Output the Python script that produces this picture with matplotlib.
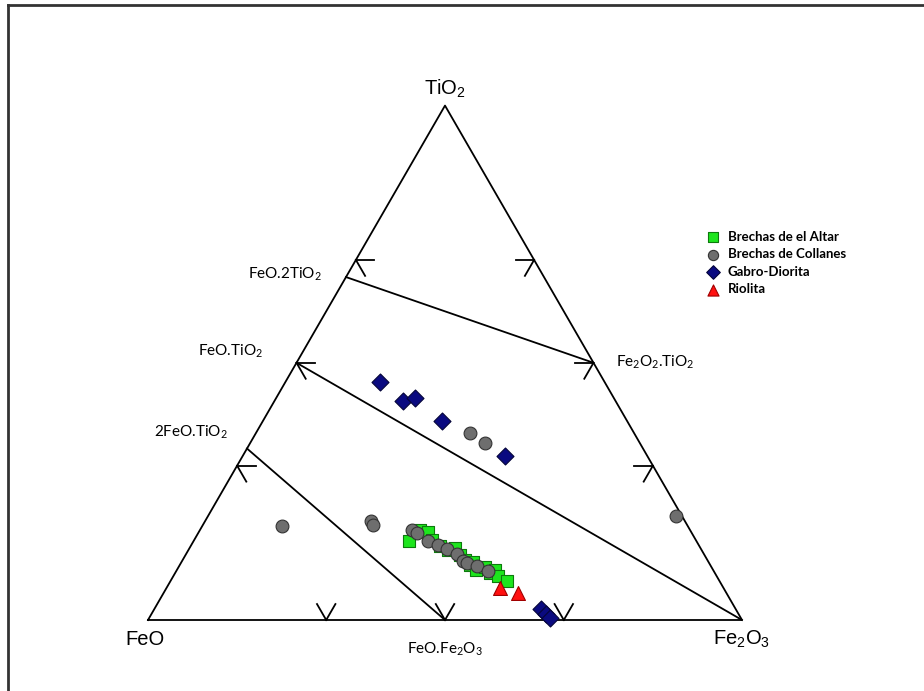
import numpy as np
import matplotlib
matplotlib.use('Agg')
from matplotlib import pyplot as plt
from matplotlib.lines import Line2D

plt.rcParams['font.family'] = ['Lato', 'DejaVu Sans']
plt.rcParams['mathtext.fontset'] = 'custom'
plt.rcParams['mathtext.rm'] = 'Lato'
plt.rcParams['mathtext.default'] = 'regular'

# compositions as (TiO2 %, Fe2O3 %), FeO is the remainder
altar_ti = [15.4, 17.5, 17.1, 15.6, 14.4, 13.6, 14.0, 12.6, 11.7, 10.7, 9.7, 10.3, 9.1, 9.7, 8.6, 7.6, 11.3]
altar_fe3 = [36.3, 37.0, 38.6, 40.0, 42.0, 43.7, 44.7, 46.2, 47.5, 48.9, 50.4, 51.6, 53.0, 53.6, 54.6, 56.7, 49.1]

collanes_ti = [18.3, 19.2, 18.5, 36.4, 34.4, 20.2, 17.5, 16.9, 15.4, 14.6, 13.8, 12.8, 11.5, 11.1, 10.5, 9.5]
collanes_fe3 = [13.4, 27.9, 28.7, 36.0, 39.5, 78.8, 35.7, 36.8, 39.5, 41.5, 43.4, 45.6, 47.3, 48.2, 50.1, 52.5]

gabro_ti = [46.3, 42.6, 43.2, 38.7, 31.9, 2.1, 1.2, 0.4]
gabro_fe3 = [15.9, 21.6, 23.4, 30.2, 44.2, 65.1, 66.4, 67.5]

riolita_ti = [6.2, 5.2]
riolita_fe3 = [56.2, 59.7]

# mineral compositions (TiO2, Fe2O3) as fractions
minerals = {
    'FeO.2TiO$_2$': (2/3, 0.0),
    'FeO.TiO$_2$': (0.5, 0.0),
    '2FeO.TiO$_2$': (1/3, 0.0),
    'Fe$_2$O$_2$.TiO$_2$': (0.5, 0.5),
    'FeO.Fe$_2$O$_3$': (0.0, 0.5),
}
tie_lines = [('FeO.2TiO$_2$', 'Fe$_2$O$_2$.TiO$_2$'),
             ('FeO.TiO$_2$', None),
             ('2FeO.TiO$_2$', 'FeO.Fe$_2$O$_3$')]
tick_fracs = [0.3, 0.5, 0.7]


def tern(ti, fe3):
    ti = np.asarray(ti, dtype=float)
    fe3 = np.asarray(fe3, dtype=float)
    return fe3 + ti / 2, ti * np.sqrt(3) / 2


fig = plt.figure(figsize=(9.24, 6.91), dpi=100)
ax = fig.add_axes([0, 0, 1, 1])
ax.set_xlim(-148 / 594, 776 / 594)
ax.set_ylim(-71 / 594, 620 / 594)
ax.axis('off')

lw = 1.3
# triangle
tx, ty = tern([0, 1, 0, 0], [0, 0, 1, 0])
ax.plot(tx, ty, color='black', lw=lw)

# tie lines
for a, b in tie_lines:
    pa = minerals[a]
    pb = minerals[b] if b else (0.0, 1.0)
    x, y = tern([pa[0], pb[0]], [pa[1], pb[1]])
    ax.plot(x, y, color='black', lw=lw)

# arrow ticks on the edges
L = 0.031
def chevron(x0, y0, a1, a2):
    for a in (a1, a2):
        r = np.radians(a)
        ax.plot([x0, x0 + L * np.cos(r)], [y0, y0 + L * np.sin(r)], color='black', lw=lw)

for f in tick_fracs:
    x, y = tern(0, f)
    chevron(x, y, 60, 120)
    x, y = tern(f, 0)
    chevron(x, y, 0, -60)
    x, y = tern(f, 1 - f)
    chevron(x, y, 180, 240)

# data
ax.scatter(*tern(np.array(altar_ti) / 100, np.array(altar_fe3) / 100), marker='s', s=85,
           facecolor='#1de51d', edgecolor='#0c7a0c', lw=0.8, zorder=3, label='Brechas de el Altar')
ax.scatter(*tern(np.array(collanes_ti) / 100, np.array(collanes_fe3) / 100), marker='o', s=85,
           facecolor='#6e6e6e', edgecolor='#333333', lw=0.8, zorder=4, label='Brechas de Collanes')
ax.scatter(*tern(np.array(gabro_ti) / 100, np.array(gabro_fe3) / 100), marker='D', s=75,
           facecolor='#0a0a80', edgecolor='#05053a', lw=0.8, zorder=5, label='Gabro-Diorita')
ax.scatter(*tern(np.array(riolita_ti) / 100, np.array(riolita_fe3) / 100), marker='^', s=100,
           facecolor='#ff1010', edgecolor='#a00000', lw=0.8, zorder=6, label='Riolita')

# vertex labels
vfont = ['Liberation Sans', 'DejaVu Sans']
x, y = tern(0, 0)
ax.annotate('FeO', (x, y), xytext=(-2, -14), textcoords='offset points', ha='center', va='center',
            fontsize=14.5, family=vfont)
x, y = tern(0, 1)
ax.annotate('Fe$_2$O$_3$', (x, y), xytext=(0, -14), textcoords='offset points', ha='center', va='center',
            fontsize=14.5, family=vfont)
x, y = tern(1, 0)
ax.annotate('TiO$_2$', (x, y), xytext=(0, 12), textcoords='offset points', ha='center', va='center',
            fontsize=14.5, family=vfont)

# mineral labels
offsets = {
    'FeO.2TiO$_2$': ((-17, 2), 'right'),
    'FeO.TiO$_2$': ((-24, 8), 'right'),
    '2FeO.TiO$_2$': ((-14, 12), 'right'),
    'Fe$_2$O$_2$.TiO$_2$': ((16, 0), 'left'),
    'FeO.Fe$_2$O$_3$': ((0, -21), 'center'),
}
for name, (off, ha) in offsets.items():
    x, y = tern(*minerals[name])
    ax.annotate(name, (x, y), xytext=off, textcoords='offset points', ha=ha, va='center', fontsize=11)

leg = ax.legend(loc='upper left', bbox_to_anchor=(700 / 924, 1 - 224 / 691), bbox_transform=fig.transFigure,
                frameon=False, fontsize=9.5, borderpad=0, handlelength=0.9, handletextpad=0.7,
                labelspacing=0.42, markerscale=0.8)
for t in leg.get_texts():
    t.set_fontweight('bold')

# frame lines of the original picture
fig.add_artist(Line2D([8 / 924, 1], [1 - 5 / 691, 1 - 5 / 691], transform=fig.transFigure, color='#333333', lw=2))
fig.add_artist(Line2D([8 / 924, 8 / 924], [0, 1 - 5 / 691], transform=fig.transFigure, color='#333333', lw=2))

fig.savefig('out.png', dpi=100)
